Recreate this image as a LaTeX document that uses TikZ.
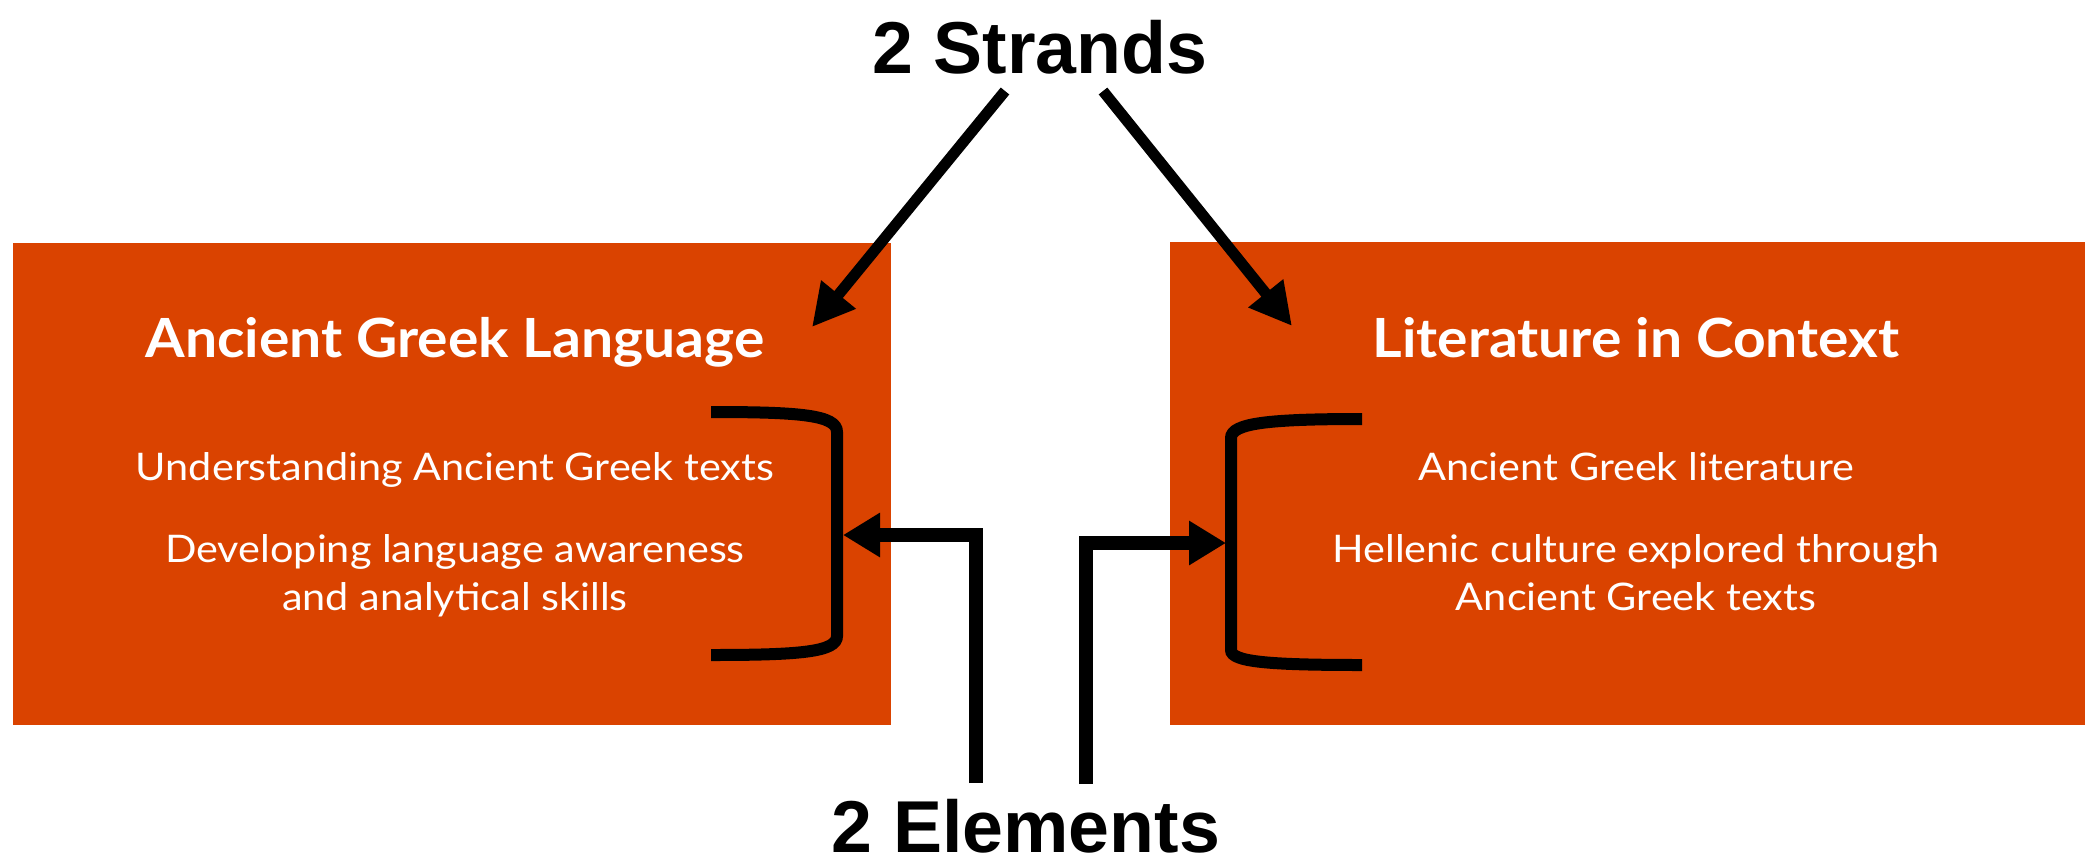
\documentclass[tikz,border=0pt]{standalone}
\usepackage{fontspec}
\newfontfamily\latotitle{Lato}[FakeStretch=1.055]
\newfontfamily\latobody{Lato}[FakeStretch=1.09]
\newfontfamily\arialfont{Liberation Sans}
\usetikzlibrary{arrows.meta}
\definecolor{strandred}{RGB}{218,67,0}

\begin{document}
\begin{tikzpicture}[x=1pt,y=-1pt,
  box/.style={fill=strandred,inner sep=0pt},
  title/.style={text=white,inner sep=0pt,anchor=base,font=\latotitle\bfseries\fontsize{54}{60}\selectfont},
  body/.style={text=white,inner sep=0pt,anchor=base,align=center,font=\latobody\fontsize{38}{48}\selectfont},
  bigword/.style={inner sep=0pt,anchor=base,font=\arialfont\bfseries\fontsize{73.5}{80}\selectfont},
  toparr/.style={line width=11pt,-{Triangle[length=42pt,width=42pt]}},
  elemarr/.style={line width=14pt,-{Triangle[length=37pt,width=42pt]}},
  brack/.style={line width=12pt}]
\useasboundingbox (0,0) rectangle (2085,863);
\node[box,minimum width=878pt,minimum height=482pt] (lang) at (452,484) {};
\node[box,minimum width=915pt,minimum height=483pt] (lit) at (1627.5,483.5) {};
\node[title] (langtitle) at (455,357) {Ancient Greek Language};
\node[title] (littitle) at (1636,357) {Literature in Context};
\node[body] (lang1) at (455,480) {Understanding Ancient Greek texts};
\node[body] (lang2) at (455,610) {Developing language awareness\\and analytical skills};
\node[body] (lit1) at (1636,480) {Ancient Greek literature};
\node[body] (lit2) at (1636,610) {Hellenic culture explored through\\Ancient Greek texts};
\node[bigword] (strands) at (1040,73) {2 Strands};
\node[bigword] (elements) at (1026,852) {2 Elements};
\draw[brack] (711,412) .. controls (800,412) and (837,415) .. (837,432) -- (837,636) .. controls (837,652) and (800,655) .. (711,655);
\draw[brack] (1362,419) .. controls (1270,419) and (1231,423) .. (1231,438) -- (1231,650) .. controls (1231,662) and (1270,665) .. (1362,665);
\coordinate (st1) at (1005,91);
\coordinate (st2) at (1103,91);
\coordinate (langtip) at (812,327);
\coordinate (littip) at (1292,326);
\draw[toparr] (st1) -- (langtip);
\draw[toparr] (st2) -- (littip);
\coordinate (el1) at (976,783);
\coordinate (el2) at (1086,784);
\coordinate (lbr) at (843,535);
\coordinate (rbr) at (1226,543);
\draw[elemarr] (el1) |- (lbr);
\draw[elemarr] (el2) |- (rbr);
\end{tikzpicture}
\end{document}
